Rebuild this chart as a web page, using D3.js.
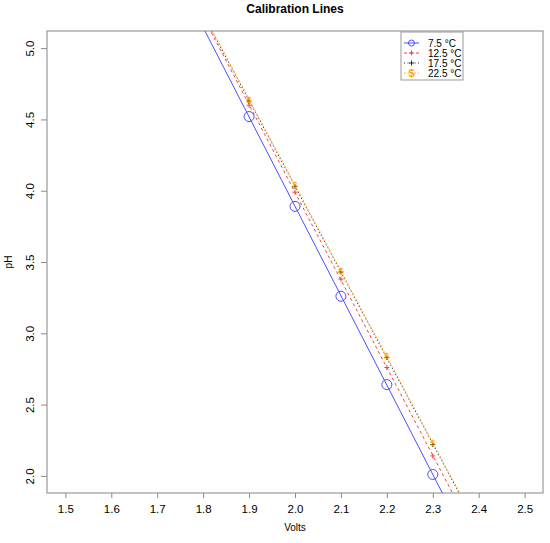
<!DOCTYPE html>
<html><head><meta charset="UTF-8">
<title>Calibration Lines</title>
<script src="https://d3js.org/d3.v7.min.js"></script>
<style>
  body { margin: 0; background: #fff; }
  text { font-family: "Liberation Sans", Arial, sans-serif; }
</style>
</head>
<body>
<svg id="chart" width="550" height="543"></svg>
<script>
// volts measured at each buffer
var volts = [1.9, 2.0, 2.1, 2.2, 2.3];
// pH read per temperature
var ph75  = [4.52, 3.89, 3.26, 2.64, 2.01];
var ph125 = [4.60, 3.99, 3.38, 2.76, 2.14];
var ph175 = [4.63, 4.03, 3.43, 2.83, 2.22];
var ph225 = [4.64, 4.04, 3.44, 2.84, 2.23];
var labels = ["7.5  \u00B0C", "12.5 \u00B0C", "17.5 \u00B0C", "22.5 \u00B0C"];
var xTicks = [1.5, 1.6, 1.7, 1.8, 1.9, 2.0, 2.1, 2.2, 2.3, 2.4, 2.5];
var yTicks = [2.0, 2.5, 3.0, 3.5, 4.0, 4.5, 5.0];

var series = [
  {name: labels[0], values: ph75,  color: "#4d4dff", dash: null,    mark: "circle"},
  {name: labels[1], values: ph125, color: "#ff3b3b", dash: "3,3",   mark: "plus"},
  {name: labels[2], values: ph175, color: "#222222", dash: "1,2.5", mark: "plus"},
  {name: labels[3], values: ph225, color: "#ffa500", dash: "1.5,2", mark: "dollar"}
];

var svg = d3.select("#chart");
// plot region ("top" is taken on window, so pTop etc.)
var pLeft = 47, pRight = 543, pTop = 31, pBottom = 493;

// R style 4% padding round the data range
var x = d3.scaleLinear().domain([1.46, 2.54]).range([pLeft, pRight]);
var y = d3.scaleLinear().domain([1.88, 5.12]).range([pBottom, pTop]);

svg.append("defs").append("clipPath").attr("id", "plotclip")
  .append("rect").attr("x", pLeft).attr("y", pTop)
  .attr("width", pRight - pLeft).attr("height", pBottom - pTop);

// axes
var xAxis = svg.append("g").attr("transform", "translate(0," + pBottom + ")")
  .call(d3.axisBottom(x).tickValues(xTicks).tickSize(5).tickPadding(7).tickFormat(d3.format(".1f")));
var yAxis = svg.append("g").attr("transform", "translate(" + pLeft + ",0)")
  .call(d3.axisLeft(y).tickValues(yTicks).tickSize(6).tickFormat(d3.format(".1f")));
[xAxis, yAxis].forEach(function(g) {
  g.select(".domain").remove();
  g.selectAll(".tick line").attr("stroke", "#888");
  g.selectAll("text").attr("fill", "#000").style("font-size", "11.5px")
    .style("font-family", "'Liberation Sans', Arial, sans-serif");
});
yAxis.selectAll(".tick text")
  .attr("transform", "rotate(-90)")
  .attr("x", 0).attr("y", -13).attr("dy", "0").attr("text-anchor", "middle");

// box
svg.append("rect").attr("x", pLeft).attr("y", pTop)
  .attr("width", pRight - pLeft).attr("height", pBottom - pTop)
  .attr("fill", "none").attr("stroke", "#999").attr("stroke-width", 1.2);

// least squares fit line for each series
function fit(xs, ys) {
  var mx = d3.mean(xs), my = d3.mean(ys), sxy = 0, sxx = 0;
  for (var i = 0; i < xs.length; i++) {
    sxy += (xs[i] - mx) * (ys[i] - my);
    sxx += (xs[i] - mx) * (xs[i] - mx);
  }
  var b = sxy / sxx;
  return {a: my - b * mx, b: b};
}

var plot = svg.append("g").attr("clip-path", "url(#plotclip)");
var dom = x.domain();

series.forEach(function(s) {
  var f = fit(volts, s.values);
  var line = plot.append("line")
    .attr("x1", x(dom[0])).attr("y1", y(f.a + f.b * dom[0]))
    .attr("x2", x(dom[1])).attr("y2", y(f.a + f.b * dom[1]))
    .attr("stroke", s.color).attr("stroke-width", 1);
  if (s.dash) line.attr("stroke-dasharray", s.dash);
});

function drawMark(g, s, cx, cy, small) {
  if (s.mark === "circle") {
    g.append("circle").attr("cx", cx).attr("cy", cy).attr("r", small ? 3 : 5)
      .attr("fill", "none").attr("stroke", s.color).attr("stroke-width", 1);
  } else if (s.mark === "plus") {
    var h = 2.5;
    g.append("path")
      .attr("d", "M" + (cx - h) + "," + cy + "H" + (cx + h) + "M" + cx + "," + (cy - h) + "V" + (cy + h))
      .attr("stroke", s.color).attr("stroke-width", 1);
  } else {
    g.append("text").attr("x", cx).attr("y", cy).attr("dy", "0.36em")
      .attr("text-anchor", "middle").attr("fill", s.color)
      .style("font-size", small ? "11px" : "9px").style("font-weight", "bold").text("$");
  }
}

series.forEach(function(s) {
  s.values.forEach(function(v, i) {
    drawMark(plot, s, x(volts[i]), y(v), false);
  });
});

// legend
var lg = svg.append("g");
lg.append("rect").attr("x", 401).attr("y", 32).attr("width", 62).attr("height", 48)
  .attr("fill", "#fff").attr("stroke", "#999").attr("stroke-width", 1);
series.forEach(function(s, i) {
  var ly = 43 + i * 10;
  var l = lg.append("line").attr("x1", 404).attr("x2", 419).attr("y1", ly).attr("y2", ly)
    .attr("stroke", s.color).attr("stroke-width", 1);
  if (s.dash) l.attr("stroke-dasharray", s.dash);
  drawMark(lg, s, 411.5, ly, true);
  lg.append("text").attr("x", 428).attr("y", ly).attr("dy", "0.35em")
    .style("font-size", "10px").attr("fill", "#000").text(s.name);
});

// titles
svg.append("text").attr("x", (pLeft + pRight) / 2).attr("y", 13).attr("text-anchor", "middle")
  .style("font-size", "12px").style("font-weight", "bold").text("Calibration Lines");
svg.append("text").attr("x", (pLeft + pRight) / 2).attr("y", 531).attr("text-anchor", "middle")
  .style("font-size", "10px").text("Volts");
svg.append("text").attr("transform", "translate(12," + ((pTop + pBottom) / 2) + ") rotate(-90)")
  .attr("text-anchor", "middle").style("font-size", "10px").text("pH");
</script>
</body></html>
